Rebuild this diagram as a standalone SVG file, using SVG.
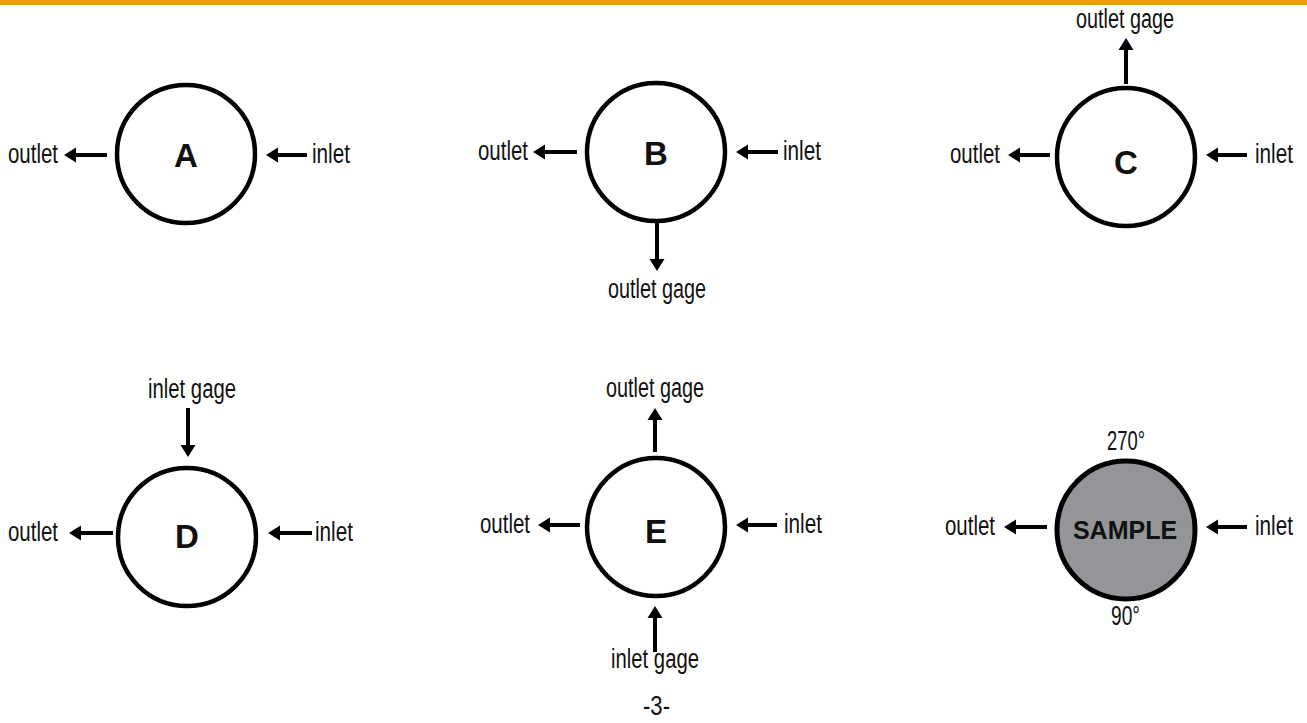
<svg xmlns="http://www.w3.org/2000/svg" width="1307" height="723" viewBox="0 0 1307 723">
<style>
.ring{fill:#fff;stroke:#000;stroke-width:4.5}
.ring.gray{fill:#939598;stroke-width:5}
.big{font-family:"Liberation Sans",Arial,sans-serif;font-weight:bold;font-size:33px;fill:#111;text-anchor:middle}
.smp{font-family:"Liberation Sans",Arial,sans-serif;font-weight:bold;font-size:25px;fill:#111;text-anchor:middle}
.lbl{font-family:"Liberation Sans Narrow","Arial Narrow","Liberation Sans",sans-serif;font-size:27px;fill:#111}
.arr{stroke:#000;stroke-width:4;fill:none;marker-end:url(#ah)}
</style>
<defs>
<marker id="ah" markerUnits="userSpaceOnUse" viewBox="0 -8 13 16" refX="1" refY="0" markerWidth="13" markerHeight="16" orient="auto">
<path d="M0,-7.5 L12,0 L0,7.5 z" fill="#000"/>
</marker>
</defs>
<rect x="0" y="0" width="1307" height="5" fill="#E99A1F"/>

<g id="connectors">
<line class="arr" x1="107" y1="155" x2="75" y2="155"/>
<line class="arr" x1="307" y1="155" x2="277" y2="155"/>
<line class="arr" x1="577" y1="152" x2="544" y2="152"/>
<line class="arr" x1="778" y1="152" x2="747" y2="152"/>
<line class="arr" x1="657" y1="221" x2="657" y2="260"/>
<line class="arr" x1="1050" y1="155" x2="1019" y2="155"/>
<line class="arr" x1="1247" y1="155" x2="1217" y2="155"/>
<line class="arr" x1="1126" y1="84" x2="1126" y2="49"/>
<line class="arr" x1="113" y1="533" x2="80" y2="533"/>
<line class="arr" x1="312" y1="533" x2="279" y2="533"/>
<line class="arr" x1="188" y1="408" x2="188" y2="446"/>
<line class="arr" x1="580" y1="525" x2="549" y2="525"/>
<line class="arr" x1="777" y1="525" x2="747" y2="525"/>
<line class="arr" x1="655" y1="452" x2="655" y2="419"/>
<line class="arr" x1="655" y1="652" x2="655" y2="617"/>
<line class="arr" x1="1047" y1="527" x2="1015" y2="527"/>
<line class="arr" x1="1247" y1="527" x2="1217" y2="527"/>
</g>

<g id="node-A">
<circle class="ring" cx="186" cy="154" r="69"/>
<text class="big" x="186" y="167">A</text>
<text class="lbl" x="8" y="163" textLength="50" lengthAdjust="spacingAndGlyphs">outlet</text>
<text class="lbl" x="312" y="163" textLength="38" lengthAdjust="spacingAndGlyphs">inlet</text>
</g>

<g id="node-B">
<circle class="ring" cx="656" cy="152" r="69"/>
<text class="big" x="656" y="165">B</text>
<text class="lbl" x="478" y="160" textLength="50" lengthAdjust="spacingAndGlyphs">outlet</text>
<text class="lbl" x="783" y="160" textLength="38" lengthAdjust="spacingAndGlyphs">inlet</text>
<text class="lbl" x="608" y="298" textLength="98" lengthAdjust="spacingAndGlyphs">outlet gage</text>
</g>

<g id="node-C">
<circle class="ring" cx="1126" cy="157" r="69"/>
<text class="big" x="1126" y="174">C</text>
<text class="lbl" x="950" y="163" textLength="50" lengthAdjust="spacingAndGlyphs">outlet</text>
<text class="lbl" x="1255" y="163" textLength="38" lengthAdjust="spacingAndGlyphs">inlet</text>
<text class="lbl" x="1076" y="28" textLength="98" lengthAdjust="spacingAndGlyphs">outlet gage</text>
</g>

<g id="node-D">
<circle class="ring" cx="187" cy="537" r="69"/>
<text class="big" x="187" y="548">D</text>
<text class="lbl" x="8" y="541" textLength="50" lengthAdjust="spacingAndGlyphs">outlet</text>
<text class="lbl" x="315" y="541" textLength="38" lengthAdjust="spacingAndGlyphs">inlet</text>
<text class="lbl" x="148" y="398" textLength="88" lengthAdjust="spacingAndGlyphs">inlet gage</text>
</g>

<g id="node-E">
<circle class="ring" cx="656" cy="527" r="69"/>
<text class="big" x="656" y="543">E</text>
<text class="lbl" x="480" y="533" textLength="50" lengthAdjust="spacingAndGlyphs">outlet</text>
<text class="lbl" x="784" y="533" textLength="38" lengthAdjust="spacingAndGlyphs">inlet</text>
<text class="lbl" x="606" y="397" textLength="98" lengthAdjust="spacingAndGlyphs">outlet gage</text>
<text class="lbl" x="611" y="668" textLength="88" lengthAdjust="spacingAndGlyphs">inlet gage</text>
</g>

<g id="node-SAMPLE">
<circle class="ring gray" cx="1126" cy="530" r="69"/>
<text class="smp" x="1125" y="539">SAMPLE</text>
<text class="lbl" x="945" y="535" textLength="50" lengthAdjust="spacingAndGlyphs">outlet</text>
<text class="lbl" x="1255" y="535" textLength="38" lengthAdjust="spacingAndGlyphs">inlet</text>
<text class="lbl" x="1107" y="450" textLength="38" lengthAdjust="spacingAndGlyphs">270°</text>
<text class="lbl" x="1111" y="625" textLength="29" lengthAdjust="spacingAndGlyphs">90°</text>
</g>

<text class="lbl" x="643" y="715" textLength="27" lengthAdjust="spacingAndGlyphs">-3-</text>
</svg>
